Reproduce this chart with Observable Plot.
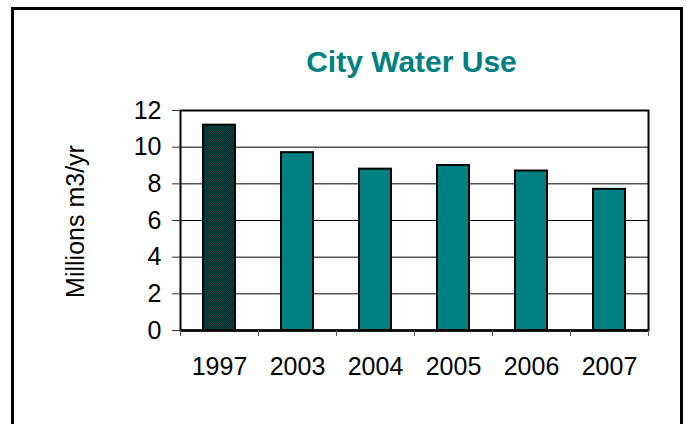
<!DOCTYPE html>
<html>
<head>
<meta charset="utf-8">
<script src="https://cdn.jsdelivr.net/npm/d3@7"></script>
<script src="https://cdn.jsdelivr.net/npm/@observablehq/plot@0.6"></script>
<style>
  html, body { margin: 0; padding: 0; background: #fff; overflow: hidden; }
  #wrap { position: relative; width: 686px; height: 424px; }
  #border { position: absolute; left: 11px; top: 7px; width: 672px; height: 520px; border: 3px solid #000; box-sizing: border-box; }
  #chart { position: absolute; left: 0; top: 0; }
</style>
</head>
<body>
<div id="wrap"><div id="border"></div><div id="chart"></div></div>
<script>
const title = "City Water Use";
const yLabel = "Millions m3/yr";
const years = ["1997", "2003", "2004", "2005", "2006", "2007"];
const values = [11.2, 9.7, 8.8, 9.0, 8.7, 7.7];
const yTicks = [0, 2, 4, 6, 8, 10, 12];

const data = years.map((year, i) => ({year, value: values[i]}));
const font = "'Liberation Sans', Arial, sans-serif";

const plot = Plot.plot({
  width: 686,
  height: 424,
  marginLeft: 180,
  marginRight: 38,
  marginTop: 110,
  marginBottom: 94,
  style: {fontFamily: font, fontSize: "25px", background: "transparent", color: "#000"},
  x: {domain: years, padding: 0, label: null},
  y: {domain: [0, 12], label: null},
  marks: [
    Plot.ruleY(yTicks, {stroke: "#000", strokeWidth: 1}),
    Plot.barY(data.slice(0, 1), {x: "year", y: "value", fill: "url(#hatch)", stroke: "#000", strokeWidth: 2, insetLeft: 23, insetRight: 23}),
    Plot.barY(data.slice(1), {x: "year", y: "value", fill: "#008080", stroke: "#000", strokeWidth: 2, insetLeft: 23, insetRight: 23}),
    Plot.frame({stroke: "#000", strokeWidth: 2}),
    Plot.ruleY([0], {stroke: "#000", strokeWidth: 2.5}),
    Plot.axisY({ticks: yTicks, tickSize: 8, tickPadding: 11, tickFormat: d => String(d), fontSize: 25, label: null, stroke: "#333"}),
    Plot.axisX({ticks: years, tickSize: 6, text: null, dx: -39, stroke: "#555", label: null}),
    Plot.axisX({ticks: years.slice(-1), tickSize: 6, text: null, dx: 39, stroke: "#555", label: null}),
    Plot.axisX({tickSize: 0, tickPadding: 27, fontSize: 25, label: null}),
    Plot.text([title], {frameAnchor: "top", dx: -3, dy: -39, lineAnchor: "bottom", text: d => d, fontSize: 30, fontWeight: "bold", fill: "#008080"}),
    Plot.text([yLabel], {frameAnchor: "left", textAnchor: "middle", dx: -105, dy: 1, rotate: -90, text: d => d, fontSize: 25, fill: "#000"})
  ]
});

plot.insertAdjacentHTML("afterbegin",
  '<defs><pattern id="hatch" width="2" height="2" patternUnits="userSpaceOnUse">' +
  '<rect width="2" height="2" fill="#005050"/>' +
  '<rect x="1" y="0" width="1" height="1" fill="#002424"/>' +
  '<rect x="0" y="1" width="1" height="1" fill="#002424"/>' +
  '</pattern></defs>');

document.getElementById("chart").appendChild(plot);
</script>
</body>
</html>
